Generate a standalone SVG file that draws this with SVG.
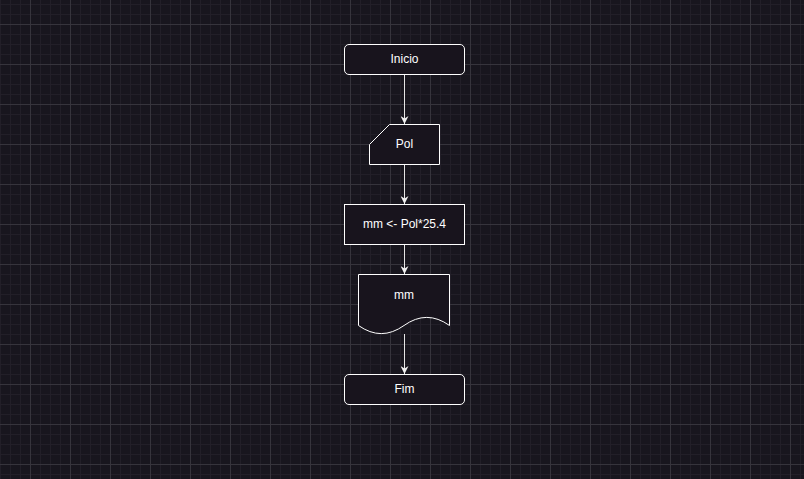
<svg xmlns="http://www.w3.org/2000/svg" width="804" height="479" viewBox="0 0 804 479">
  <defs>
    <pattern id="minor" x="0" y="4" width="10" height="10" patternUnits="userSpaceOnUse">
      <path d="M0.5,0 V10 M0,0.5 H10" fill="none" stroke="#221f28" stroke-width="1"/>
    </pattern>
    <pattern id="major" x="30" y="24" width="40" height="40" patternUnits="userSpaceOnUse">
      <path d="M0.5,0 V40 M0,0.5 H40" fill="none" stroke="#36343c" stroke-width="1"/>
    </pattern>
    <marker id="arrow" viewBox="0 0 10 10" refX="10" refY="5" markerWidth="8" markerHeight="8" markerUnits="userSpaceOnUse" orient="auto">
      <path d="M0,0 L10,5 L0,10 L3,5 Z" fill="#f0f0f0"/>
    </marker>
    <style>
      .node { fill: #18141d; stroke: #ffffff; stroke-width: 1; }
      .label { font-family: "Liberation Sans", Arial, sans-serif; font-size: 12px; fill: #ffffff; text-anchor: middle; dominant-baseline: central; }
      .edge { fill: none; stroke: #e6e6e6; stroke-width: 1; marker-end: url(#arrow); }
    </style>
  </defs>
  <rect width="804" height="479" fill="#18161e"/>
  <rect width="804" height="479" fill="url(#minor)"/>
  <rect width="804" height="479" fill="url(#major)"/>

  <g id="connectors">
    <path class="edge" d="M404.5,74.5 V124"/>
    <path class="edge" d="M404.5,164.5 V204"/>
    <path class="edge" d="M404.5,244.5 V274"/>
    <path class="edge" d="M404.5,334 V374"/>
  </g>

  <g id="inicio">
    <rect class="node" x="344.5" y="44.5" width="120" height="30" rx="4.5" ry="4.5"/>
    <text class="label" x="404.5" y="58.5">Inicio</text>
  </g>

  <g id="pol">
    <path class="node" d="M389.5,124.5 H439.5 V164.5 H369.5 V144.5 Z"/>
    <text class="label" x="404.5" y="143.5">Pol</text>
  </g>

  <g id="calc">
    <rect class="node" x="344.5" y="204.5" width="120" height="40"/>
    <text class="label" x="404.5" y="223.5">mm &lt;- Pol*25.4</text>
  </g>

  <g id="saida">
    <path class="node" d="M358.5,274.5 H449.5 V325.5 Q426.75,309.3 404,325.5 Q381.25,341.7 358.5,325.5 Z"/>
    <text class="label" x="404" y="294.5">mm</text>
  </g>

  <g id="fim">
    <rect class="node" x="344.5" y="374.5" width="120" height="30" rx="4.5" ry="4.5"/>
    <text class="label" x="404.5" y="388.5">Fim</text>
  </g>
</svg>
